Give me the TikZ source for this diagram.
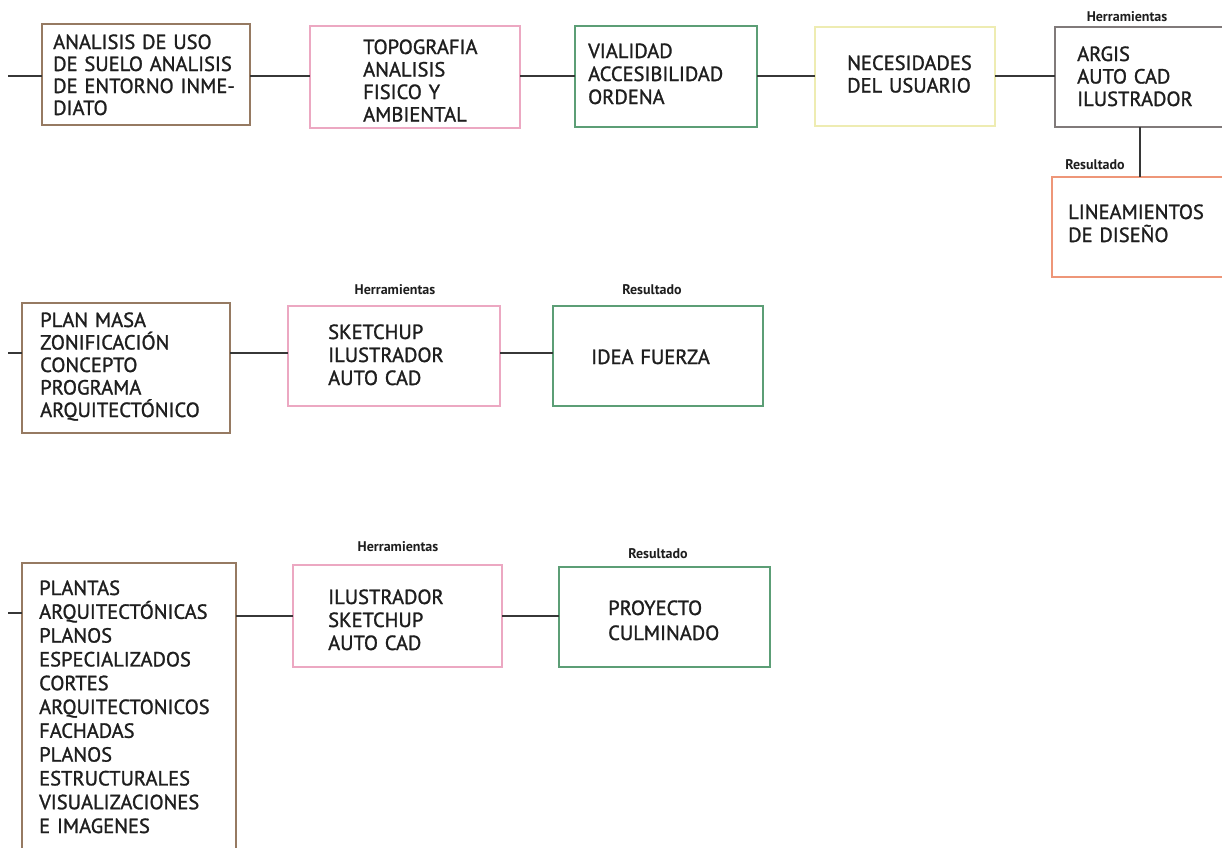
\documentclass[tikz,border=0pt]{standalone}
\usepackage{fontspec}
\setmainfont{PT Sans}
\newfontfamily\boxfont{PT Sans}[FakeBold=1.3]
\definecolor{brownc}{RGB}{150,122,98}
\definecolor{pinkc}{RGB}{236,168,194}
\definecolor{greenc}{RGB}{92,158,118}
\definecolor{yellowc}{RGB}{238,236,178}
\definecolor{grayc}{RGB}{128,122,122}
\definecolor{orangec}{RGB}{238,150,120}
\definecolor{linec}{RGB}{55,55,55}
\definecolor{textc}{RGB}{30,30,30}
\begin{document}
\begin{tikzpicture}[x=1pt,y=-1pt,
  box/.style={draw=#1, line width=2.2pt, fill=white, inner sep=0pt, outer sep=0pt, anchor=north west, rectangle},
  txt/.style={anchor=base west, text width=230pt, align=left, inner sep=0pt, font=\boxfont\fontsize{20.5}{22.5}\selectfont, text=textc},
  lbl/.style={anchor=base, inner sep=0pt, font=\bfseries\fontsize{14}{16}\selectfont, text=textc},
  conn/.style={draw=linec, line width=1.8pt}]
\useasboundingbox (0,0) rectangle (1222,847);
\clip (0,0) rectangle (1222,847);
\fill[white] (0,0) rectangle (1222,847);
% row 1 boxes
\node[box=brownc, minimum width=208pt, minimum height=101pt] (A) at (42,24) {};
\node[box=pinkc, minimum width=210pt, minimum height=102pt] (B) at (310,26) {};
\node[box=greenc, minimum width=182pt, minimum height=101pt] (C) at (575,26) {};
\node[box=yellowc, minimum width=180pt, minimum height=99pt] (D) at (815,27) {};
\node[box=grayc, minimum width=180pt, minimum height=100pt] (E) at (1055,27) {};
\node[box=orangec, minimum width=180pt, minimum height=100pt] (F) at (1052,177) {};
% row 2 boxes
\node[box=brownc, minimum width=208pt, minimum height=130pt] (G) at (22,303) {};
\node[box=pinkc, minimum width=212pt, minimum height=100pt] (H) at (288,306) {};
\node[box=greenc, minimum width=210pt, minimum height=100pt] (I) at (553,306) {};
% row 3 boxes
\node[box=brownc, minimum width=214pt, minimum height=300pt] (J) at (22,563) {};
\node[box=pinkc, minimum width=209pt, minimum height=102pt] (K) at (293,565) {};
\node[box=greenc, minimum width=211pt, minimum height=100pt] (L) at (559,567) {};
% connectors
\coordinate (s1) at (8,76);
\coordinate (v1) at (1140,0);
\coordinate (s2) at (8,353);
\coordinate (s3) at (8,613);
\coordinate (r3) at (0,616);
\draw[conn] (s1) -- (s1 -| A.west);
\draw[conn] (A.east |- s1) -- (B.west |- s1);
\draw[conn] (B.east |- s1) -- (C.west |- s1);
\draw[conn] (C.east |- s1) -- (D.west |- s1);
\draw[conn] (D.east |- s1) -- (E.west |- s1);
\draw[conn] (E.south -| v1) -- (F.north -| v1);
\draw[conn] (s2) -- (s2 -| G.west);
\draw[conn] (G.east |- s2) -- (H.west |- s2);
\draw[conn] (H.east |- s2) -- (I.west |- s2);
\draw[conn] (s3) -- (s3 -| J.west);
\draw[conn] (J.east |- r3) -- (K.west |- r3);
\draw[conn] (K.east |- r3) -- (L.west |- r3);
% texts row 1
\node[txt, font=\boxfont\fontsize{20.5}{22}\selectfont] (At) at (53,49) {ANALISIS DE USO\\DE SUELO ANALISIS\\DE ENTORNO INME-\\DIATO};
\node[txt, font=\boxfont\fontsize{20.5}{22.5}\selectfont] (Bt) at (363,54) {TOPOGRAFIA\\ANALISIS\\FISICO Y\\AMBIENTAL};
\node[txt, font=\boxfont\fontsize{20.5}{23}\selectfont] (Ct) at (588,58) {VIALIDAD\\ACCESIBILIDAD\\ORDENA};
\node[txt, font=\boxfont\fontsize{20.5}{22.5}\selectfont] (Dt) at (847,70) {NECESIDADES\\DEL USUARIO};
\node[txt] (Et) at (1077,61) {ARGIS\\AUTO CAD\\ILUSTRADOR};
\node[txt, font=\boxfont\fontsize{20.5}{23}\selectfont] (Ft) at (1068,219) {LINEAMIENTOS\\DE DISEÑO};
\node[lbl] (Eh) at (1127,21) {Herramientas};
\node[lbl] (Fr) at (1095,169) {Resultado};
% texts row 2
\node[txt] (Gt) at (40,327) {PLAN MASA\\ZONIFICACIÓN\\CONCEPTO\\PROGRAMA\\ARQUITECTÓNICO};
\node[txt, font=\boxfont\fontsize{20.5}{23}\selectfont] (Ht) at (328,339) {SKETCHUP\\ILUSTRADOR\\AUTO CAD};
\node[txt] (It) at (591,364) {IDEA FUERZA};
\node[lbl] (Hh) at (395,294) {Herramientas};
\node[lbl] (Ir) at (652,294) {Resultado};
% texts row 3
\node[txt, font=\boxfont\fontsize{20.5}{23.8}\selectfont] (Jt) at (39,595) {PLANTAS\\ARQUITECTÓNICAS\\PLANOS\\ESPECIALIZADOS\\CORTES\\ARQUITECTONICOS\\FACHADAS\\PLANOS\\ESTRUCTURALES\\VISUALIZACIONES\\E IMAGENES};
\node[txt, font=\boxfont\fontsize{20.5}{23}\selectfont] (Kt) at (328,604) {ILUSTRADOR\\SKETCHUP\\AUTO CAD};
\node[txt, font=\boxfont\fontsize{20.5}{25}\selectfont] (Lt) at (608,615) {PROYECTO\\CULMINADO};
\node[lbl] (Kh) at (398,551) {Herramientas};
\node[lbl] (Lr) at (658,558) {Resultado};
\end{tikzpicture}
\end{document}
